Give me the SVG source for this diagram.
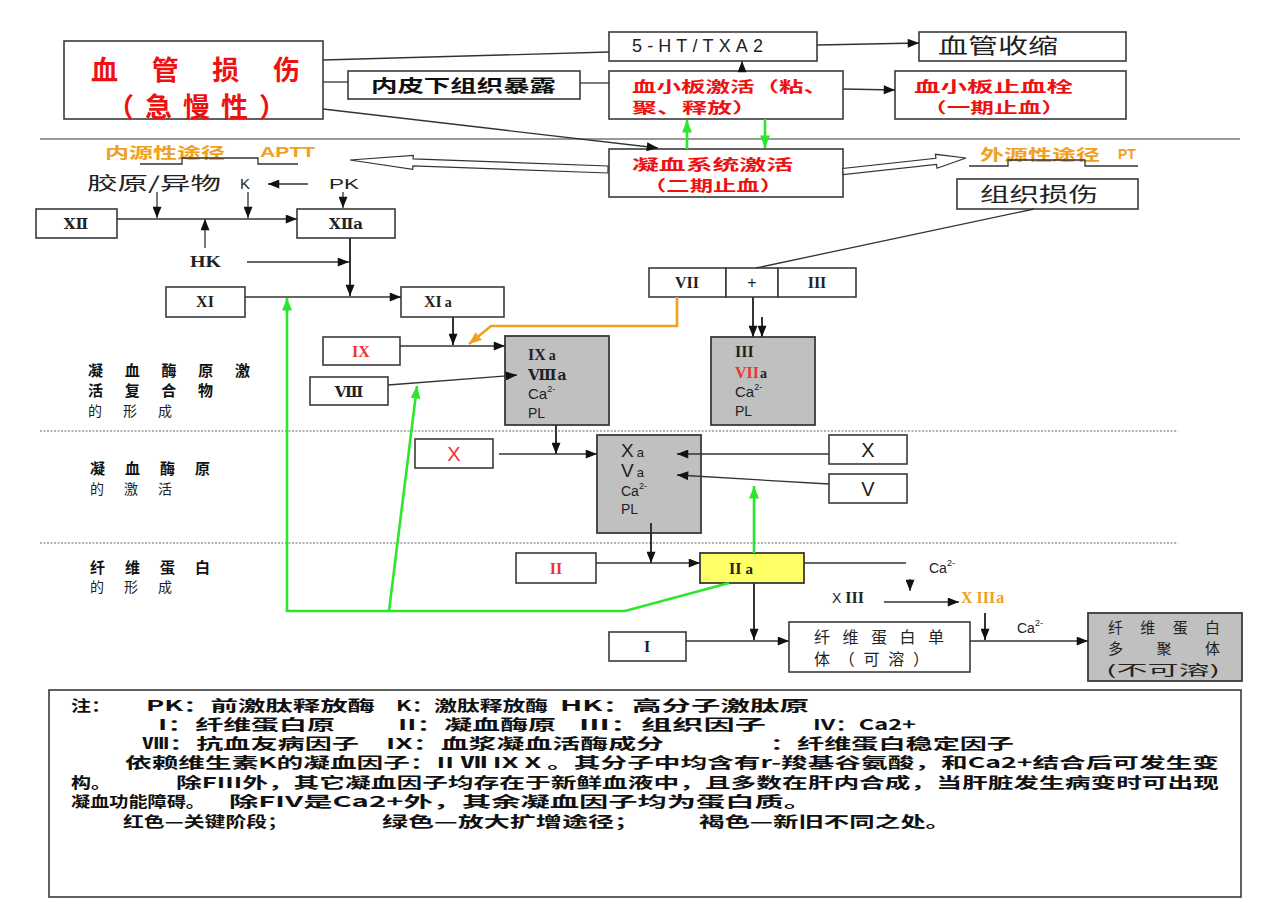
<svg xmlns="http://www.w3.org/2000/svg" width="1280" height="903" viewBox="0 0 1280 903">
<defs>
<style>
.bx{fill:#fff;stroke:#3a3a3a;stroke-width:1.6}
.gy{fill:#c0c0c0;stroke:#3a3a3a;stroke-width:1.8}
.yl{fill:#ffff66;stroke:#3a3a3a;stroke-width:1.8}
.ln{fill:none;stroke:#333;stroke-width:1.3}
.la{fill:none;stroke:#333;stroke-width:1.3}
.lb{fill:none;stroke:#333;stroke-width:2}
.gr{fill:none;stroke:#2ee52e;stroke-width:2.6}
.oa{fill:none;stroke:#f0a020;stroke-width:2.6}
.sep{fill:none;stroke:#777;stroke-width:1.3}
.dsh{fill:none;stroke:#999;stroke-width:1.3;stroke-dasharray:2 1.5}
.cn{font-family:"Noto Sans CJK SC","Noto Sans",sans-serif}
.b{font-weight:bold}
.red{fill:#ee1111}
.org{fill:#f0a020}
.rm{font-family:"Liberation Serif","DejaVu Serif",serif;font-weight:bold;font-size:16px;fill:#222}
.rn{font-family:"DejaVu Serif","Liberation Serif",serif;font-weight:bold;font-size:15px;fill:#222}
.sa{font-family:"Liberation Sans",Arial,sans-serif;fill:#222}
.nt{font-family:"Noto Sans CJK SC",sans-serif;font-weight:bold;font-size:15px;fill:#111}
</style>
<marker id="ah" viewBox="0 0 10 8" refX="10" refY="4" markerWidth="12" markerHeight="9" markerUnits="userSpaceOnUse" orient="auto"><path d="M0,0 L10,4 L0,8 z" fill="#111"/></marker>
<marker id="ag" viewBox="0 0 10 8" refX="10" refY="4" markerWidth="13" markerHeight="10" markerUnits="userSpaceOnUse" orient="auto"><path d="M0,0 L10,4 L0,8 z" fill="#2ee52e"/></marker>
<marker id="ao" viewBox="0 0 10 8" refX="10" refY="4" markerWidth="13" markerHeight="10" markerUnits="userSpaceOnUse" orient="auto"><path d="M0,0 L10,4 L0,8 z" fill="#f0a020"/></marker>
</defs>
<rect width="1280" height="903" fill="#fff"/>

<g id="separators">
<line class="sep" x1="40" y1="139" x2="1240" y2="139"/>
<line class="dsh" x1="40" y1="431" x2="1178" y2="431"/>
<line class="dsh" x1="40" y1="543" x2="1178" y2="543"/>
</g>

<g id="n-injury"><rect class="bx" x="64" y="41" width="259" height="78"/>
<text class="cn b red" x="91" y="80" font-size="27" textLength="209" lengthAdjust="spacing">血管损伤</text>
<text class="cn b red" x="107" y="117" font-size="27" textLength="179" lengthAdjust="spacing">（急慢性）</text></g>
<g id="n-5ht"><rect class="bx" x="609" y="32" width="208" height="29"/>
<text class="sa" x="632" y="52" font-size="18" textLength="131" lengthAdjust="spacing">5-HT/TXA2</text></g>
<g id="n-vasoconstrict"><rect class="bx" x="919" y="32" width="207" height="29"/>
<text class="cn" x="938" y="53" font-size="21" textLength="120" lengthAdjust="spacingAndGlyphs" fill="#222">血管收缩</text></g>
<g id="n-subendo"><rect class="bx" x="348" y="71" width="232" height="28"/>
<text class="cn b" x="371" y="92" font-size="17" textLength="185" lengthAdjust="spacingAndGlyphs" fill="#111">内皮下组织暴露</text></g>
<g id="n-plt-act"><rect class="bx" x="609" y="71" width="234" height="48"/>
<text class="cn b red" x="632" y="92" font-size="15" textLength="196" lengthAdjust="spacingAndGlyphs">血小板激活（粘、</text>
<text class="cn b red" x="632" y="113" font-size="15" textLength="125" lengthAdjust="spacingAndGlyphs">聚、释放）</text></g>
<g id="n-plt-plug"><rect class="bx" x="895" y="71" width="231" height="48"/>
<text class="cn b red" x="914" y="92" font-size="15" textLength="159" lengthAdjust="spacingAndGlyphs">血小板止血栓</text>
<text class="cn b red" x="923" y="113" font-size="15" textLength="142" lengthAdjust="spacingAndGlyphs">（一期止血）</text></g>
<g id="n-coag"><rect class="bx" x="609" y="149" width="234" height="48"/>
<text class="cn b red" x="632" y="170" font-size="15" textLength="161" lengthAdjust="spacingAndGlyphs">凝血系统激活</text>
<text class="cn b red" x="643" y="191" font-size="15" textLength="140" lengthAdjust="spacingAndGlyphs">（二期止血）</text></g>
<g id="l-intrinsic">
<text class="cn b org" x="105" y="158" font-size="15" textLength="120" lengthAdjust="spacingAndGlyphs">内源性途径</text>
<text class="sa b" x="260" y="157" font-size="14" textLength="55" lengthAdjust="spacingAndGlyphs" style="fill:#f0a020">APTT</text></g>
<g id="l-extrinsic">
<text class="cn b org" x="980" y="160" font-size="15" textLength="120" lengthAdjust="spacingAndGlyphs">外源性途径</text>
<text class="sa b" x="1118" y="159" font-size="14" style="fill:#f0a020">PT</text></g>
<g id="n-tissue"><rect class="bx" x="957" y="179" width="181" height="30"/>
<text class="cn" x="980" y="202" font-size="20" textLength="118" lengthAdjust="spacingAndGlyphs" fill="#222">组织损伤</text></g>

<g id="l-collagen"><text class="cn" x="87" y="190" font-size="18" textLength="134" lengthAdjust="spacingAndGlyphs" fill="#222">胶原/异物</text>
<text class="sa" x="240" y="189" font-size="15">K</text>
<text class="sa" x="329" y="189" font-size="15" textLength="30" lengthAdjust="spacingAndGlyphs">PK</text></g>
<g id="n-XII"><rect class="bx" x="36" y="209" width="81" height="29"/><text class="rn" x="76" y="229" text-anchor="middle">XⅡ</text></g>
<g id="n-XIIa"><rect class="bx" x="297" y="209" width="98" height="29"/><text class="rn" x="346" y="229" text-anchor="middle">XⅡa</text></g>
<g id="l-HK"><text class="rm" x="190" y="267" font-size="14" textLength="31" lengthAdjust="spacingAndGlyphs">HK</text></g>
<g id="n-XI"><rect class="bx" x="166" y="287" width="79" height="30"/><text class="rm" x="205" y="307" text-anchor="middle">XI</text></g>
<g id="n-XIa"><rect class="bx" x="401" y="287" width="103" height="30"/><text class="rm" x="424" y="307">XI<tspan font-size="14" dx="3">a</tspan></text></g>
<g id="n-IX"><rect class="bx" x="323" y="337" width="77" height="28"/><text class="rm" x="361" y="357" text-anchor="middle" style="fill:#e33">IX</text></g>
<g id="n-VIII"><rect class="bx" x="310" y="377" width="78" height="28"/><text class="rn" x="349" y="397" text-anchor="middle">Ⅷ</text></g>
<g id="n-IXa"><rect class="gy" x="505" y="336" width="104" height="89"/>
<text class="rm" x="528" y="360">IX<tspan font-size="14" dx="3">a</tspan></text>
<text class="rn" x="528" y="380">Ⅷ<tspan font-size="14" dx="1">a</tspan></text>
<text class="sa" x="528" y="399" font-size="15">Ca<tspan font-size="9" dy="-7">2-</tspan></text>
<text class="sa" x="528" y="418" font-size="14">PL</text></g>

<g id="n-VII"><rect class="bx" x="649" y="268" width="77" height="29"/><text class="rm" x="687" y="288" text-anchor="middle">VII</text></g>
<g id="n-plus"><rect class="bx" x="726" y="268" width="52" height="29"/><text class="sa" x="752" y="288" text-anchor="middle" font-size="16">+</text></g>
<g id="n-III"><rect class="bx" x="778" y="268" width="78" height="29"/><text class="rm" x="817" y="288" text-anchor="middle">III</text></g>
<g id="n-IIIa"><rect class="gy" x="711" y="337" width="104" height="88"/>
<text class="rm" x="735" y="357">III</text>
<text class="rm" x="735" y="378"><tspan style="fill:#e33">VII</tspan><tspan font-size="14" dx="1">a</tspan></text>
<text class="sa" x="735" y="397" font-size="15">Ca<tspan font-size="9" dy="-7">2-</tspan></text>
<text class="sa" x="735" y="416" font-size="14">PL</text></g>

<g id="n-Xr"><rect class="bx" x="415" y="439" width="78" height="29"/><text class="sa" x="454" y="461" text-anchor="middle" font-size="20" style="fill:#e33">X</text></g>
<g id="n-Xa"><rect class="gy" x="597" y="435" width="104" height="98"/>
<text class="sa" x="621" y="457" font-size="19">X<tspan font-size="13" dx="3">a</tspan></text>
<text class="sa" x="621" y="477" font-size="19">V<tspan font-size="13" dx="3">a</tspan></text>
<text class="sa" x="621" y="496" font-size="14">Ca<tspan font-size="9" dy="-7">2-</tspan></text>
<text class="sa" x="621" y="514" font-size="14">PL</text></g>
<g id="n-X"><rect class="bx" x="829" y="435" width="78" height="29"/><text class="sa" x="868" y="457" text-anchor="middle" font-size="20">X</text></g>
<g id="n-V"><rect class="bx" x="829" y="474" width="78" height="29"/><text class="sa" x="868" y="496" text-anchor="middle" font-size="20">V</text></g>

<g id="n-II"><rect class="bx" x="516" y="553" width="80" height="30"/><text class="rm" x="556" y="574" text-anchor="middle" style="fill:#e33">II</text></g>
<g id="n-IIa"><rect class="yl" x="700" y="553" width="104" height="30"/><text class="rm" x="729" y="574" font-size="17">II<tspan font-size="15" dx="4">a</tspan></text></g>
<g id="l-ca1"><text class="sa" x="929" y="573" font-size="14">Ca<tspan font-size="9" dy="-7">2-</tspan></text></g>
<g id="l-XIII"><text class="sa" x="832" y="603" font-size="14">X<tspan class="rm" font-size="14" dx="4">III</tspan></text>
<text class="rm" x="961" y="603" font-size="14" style="fill:#f0a020">X<tspan dx="4">III</tspan><tspan dx="1">a</tspan></text></g>
<g id="n-I"><rect class="bx" x="609" y="632" width="77" height="29"/><text class="rm" x="647" y="652" text-anchor="middle">I</text></g>
<g id="n-monomer"><rect class="bx" x="789" y="622" width="181" height="50"/>
<text class="cn" x="814" y="643" font-size="16" textLength="130" lengthAdjust="spacing" fill="#222">纤维蛋白单</text>
<text class="cn" x="814" y="665" font-size="16" textLength="115" lengthAdjust="spacing" fill="#222">体（可溶）</text></g>
<g id="l-ca2"><text class="sa" x="1017" y="633" font-size="14">Ca<tspan font-size="9" dy="-7">2-</tspan></text></g>
<g id="n-polymer"><rect class="gy" x="1088" y="613" width="154" height="68"/>
<text class="cn" x="1108" y="633" font-size="15" textLength="112" lengthAdjust="spacing" fill="#222">纤维蛋白</text>
<text class="cn" x="1108" y="654" font-size="15" textLength="112" lengthAdjust="spacing" fill="#222">多聚体</text>
<text class="cn" x="1106" y="675" font-size="14" textLength="114" lengthAdjust="spacingAndGlyphs" fill="#222">(不可溶)</text></g>

<g id="l-stage1"><text class="cn b" x="88" y="376" font-size="15" textLength="162" lengthAdjust="spacing" fill="#111">凝血酶原激</text>
<text class="cn b" x="88" y="396" font-size="15" textLength="125" lengthAdjust="spacing" fill="#111">活复合物</text>
<text class="cn" x="88" y="416" font-size="14" textLength="84" lengthAdjust="spacing" fill="#222">的形成</text></g>
<g id="l-stage2"><text class="cn b" x="90" y="474" font-size="15" textLength="120" lengthAdjust="spacing" fill="#111">凝血酶原</text>
<text class="cn" x="90" y="494" font-size="14" textLength="82" lengthAdjust="spacing" fill="#222">的激活</text></g>
<g id="l-stage3"><text class="cn b" x="90" y="573" font-size="15" textLength="120" lengthAdjust="spacing" fill="#111">纤维蛋白</text>
<text class="cn" x="90" y="592" font-size="14" textLength="82" lengthAdjust="spacing" fill="#222">的形成</text></g>

<g id="note"><rect class="bx" x="49" y="690" width="1192" height="207"/>
<text class="nt" x="71" y="711" textLength="40" lengthAdjust="spacingAndGlyphs">注：</text>
<text class="nt" x="146" y="711" textLength="229" lengthAdjust="spacingAndGlyphs">PK：前激肽释放酶</text>
<text class="nt" x="396" y="711" textLength="152" lengthAdjust="spacingAndGlyphs">K：激肽释放酶</text>
<text class="nt" x="560" y="711" textLength="249" lengthAdjust="spacingAndGlyphs">HK：高分子激肽原</text>
<text class="nt" x="158" y="730" textLength="177" lengthAdjust="spacingAndGlyphs">I：纤维蛋白原</text>
<text class="nt" x="398" y="730" textLength="158" lengthAdjust="spacingAndGlyphs">II：凝血酶原</text>
<text class="nt" x="579" y="730" textLength="187" lengthAdjust="spacingAndGlyphs">III：组织因子</text>
<text class="nt" x="813" y="730" textLength="103" lengthAdjust="spacingAndGlyphs">IV：Ca2+</text>
<text class="nt" x="142" y="749" textLength="217" lengthAdjust="spacingAndGlyphs">Ⅷ：抗血友病因子</text>
<text class="nt" x="386" y="749" textLength="278" lengthAdjust="spacingAndGlyphs">IX：血浆凝血活酶成分</text>
<text class="nt" x="770" y="749" textLength="244" lengthAdjust="spacingAndGlyphs">：纤维蛋白稳定因子</text>
<text class="nt" x="125" y="768" textLength="1094" lengthAdjust="spacingAndGlyphs">依赖维生素K的凝血因子：II Ⅶ IX X 。其分子中均含有r-羧基谷氨酸，和Ca2+结合后可发生变</text>
<text class="nt" x="71" y="788" textLength="40" lengthAdjust="spacingAndGlyphs">构。</text>
<text class="nt" x="176" y="788" textLength="1043" lengthAdjust="spacingAndGlyphs">除FIII外，其它凝血因子均存在于新鲜血液中，且多数在肝内合成，当肝脏发生病变时可出现</text>
<text class="nt" x="71" y="807" textLength="134" lengthAdjust="spacingAndGlyphs">凝血功能障碍。</text>
<text class="nt" x="229" y="807" textLength="584" lengthAdjust="spacingAndGlyphs">除FIV是Ca2+外，其余凝血因子均为蛋白质。</text>
<text class="nt" x="123" y="827" textLength="165" lengthAdjust="spacingAndGlyphs">红色—关键阶段；</text>
<text class="nt" x="382" y="827" textLength="258" lengthAdjust="spacingAndGlyphs">绿色—放大扩增途径；</text>
<text class="nt" x="699" y="827" textLength="252" lengthAdjust="spacingAndGlyphs">褐色—新旧不同之处。</text>
</g>

<g id="connectors">
<line class="ln" x1="323" y1="60" x2="609" y2="52"/>
<line class="ln" x1="323" y1="82" x2="348" y2="82"/>
<line class="ln" x1="580" y1="83" x2="609" y2="83"/>
<line class="la" x1="323" y1="109" x2="658" y2="148" marker-end="url(#ah)"/>
<line class="la" x1="742" y1="71" x2="742" y2="61" marker-end="url(#ah)"/>
<line class="la" x1="817" y1="45" x2="919" y2="43" marker-end="url(#ah)"/>
<line class="la" x1="843" y1="89" x2="895" y2="90" marker-end="url(#ah)"/>
<line class="gr" x1="687" y1="149" x2="687" y2="120" marker-end="url(#ag)"/>
<line class="gr" x1="765" y1="119" x2="765" y2="148" marker-end="url(#ag)"/>
<polygon points="350,160 413.3,155.3 413.1,158.8 608.1,166 607.9,173 412.9,165.8 412.7,169.3" fill="#fff" stroke="#333" stroke-width="1.2"/>
<polygon points="966,158 935.4,154.3 935.9,158.3 842.7,168.5 843.3,174.5 936.5,164.3 937,168.3" fill="#fff" stroke="#333" stroke-width="1.2"/>
<path class="ln" d="M140,164 H182 V158 H258 V164 H298"/>
<path class="ln" d="M969,166 H1008 V160 H1085 V166 H1138"/>
<line class="la" x1="308" y1="184" x2="268" y2="184" marker-end="url(#ah)"/>
<line class="la" x1="157" y1="192" x2="157" y2="218" marker-end="url(#ah)"/>
<line class="la" x1="248" y1="192" x2="248" y2="218" marker-end="url(#ah)"/>
<line class="la" x1="117" y1="219" x2="297" y2="219" marker-end="url(#ah)"/>
<line class="la" x1="205" y1="248" x2="205" y2="219" marker-end="url(#ah)"/>
<line class="la" x1="343" y1="192" x2="343" y2="208" marker-end="url(#ah)"/>
<line class="lb" x1="350" y1="238" x2="350" y2="296" marker-end="url(#ah)"/>
<line class="la" x1="247" y1="262" x2="349" y2="262" marker-end="url(#ah)"/>
<line class="la" x1="245" y1="297" x2="401" y2="297" marker-end="url(#ah)"/>
<line class="lb" x1="453" y1="317" x2="453" y2="345" marker-end="url(#ah)"/>
<line class="la" x1="400" y1="346" x2="505" y2="346" marker-end="url(#ah)"/>
<line class="la" x1="388" y1="385" x2="517" y2="375" marker-end="url(#ah)"/>
<path class="oa" d="M677,297 V326 H491 L469,344" marker-end="url(#ao)"/>
<line class="ln" x1="1034" y1="209" x2="756" y2="268"/>
<line class="lb" x1="753" y1="297" x2="753" y2="337" marker-end="url(#ah)"/>
<line class="lb" x1="762" y1="317" x2="762" y2="337" marker-end="url(#ah)"/>
<line class="lb" x1="556" y1="425" x2="556" y2="454" marker-end="url(#ah)"/>
<line class="la" x1="499" y1="454" x2="597" y2="454" marker-end="url(#ah)"/>
<line class="la" x1="829" y1="454" x2="677" y2="454" marker-end="url(#ah)"/>
<line class="la" x1="829" y1="484" x2="677" y2="475" marker-end="url(#ah)"/>
<line class="lb" x1="651" y1="523" x2="651" y2="563" marker-end="url(#ah)"/>
<line class="la" x1="596" y1="563" x2="700" y2="563" marker-end="url(#ah)"/>
<line class="gr" x1="754" y1="553" x2="754" y2="486" marker-end="url(#ag)"/>
<line class="ln" x1="804" y1="563" x2="906" y2="563"/>
<line class="la" x1="910" y1="579" x2="910" y2="591" marker-end="url(#ah)"/>
<line class="la" x1="884" y1="602" x2="959" y2="602" marker-end="url(#ah)"/>
<line class="lb" x1="754" y1="583" x2="754" y2="640" marker-end="url(#ah)"/>
<line class="la" x1="686" y1="641" x2="789" y2="641" marker-end="url(#ah)"/>
<line class="lb" x1="985" y1="613" x2="985" y2="640" marker-end="url(#ah)"/>
<line class="la" x1="970" y1="641" x2="1088" y2="641" marker-end="url(#ah)"/>
<path class="gr" d="M729,583 L625,611 H287 V310"/>
<line class="gr" x1="287" y1="312" x2="287" y2="298" marker-end="url(#ag)"/>
<line class="gr" x1="389" y1="611" x2="417" y2="386" marker-end="url(#ag)"/>
</g>
</svg>
